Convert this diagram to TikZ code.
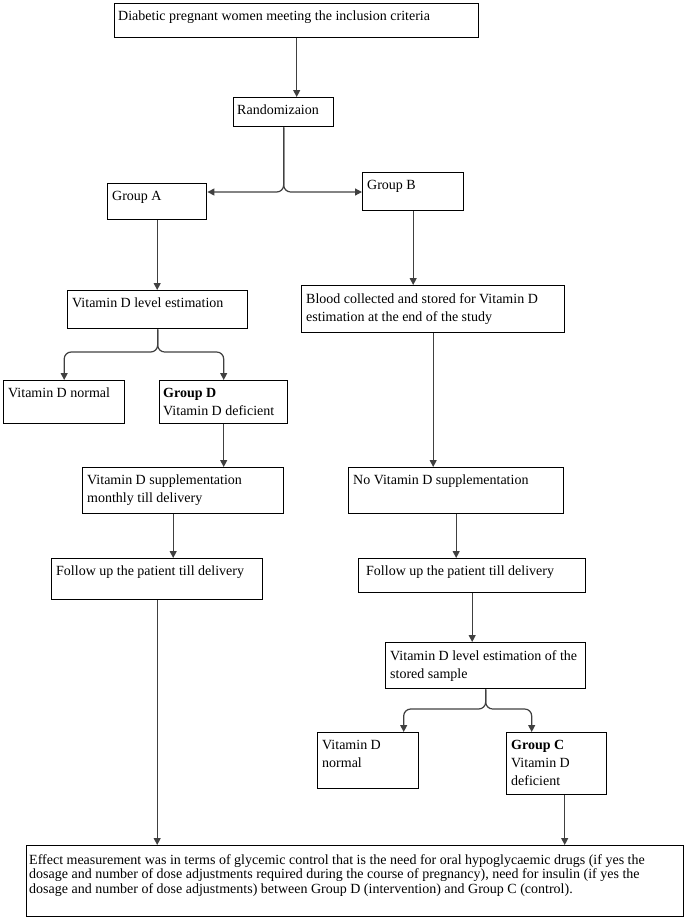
\documentclass[tikz,border=0pt]{standalone}
\usepackage{fontspec}
\setmainfont{Liberation Serif}
\usetikzlibrary{arrows.meta,calc}
\newcommand\flowbox[7][5]{% [inset] name,x1,y1,x2,y2,text
  \node[boxst, minimum width={(#5-#3)*1pt}, minimum height={(#6-#4)*1pt}] (#2) at (#3,#4) {};
  \node[txt] (#2-t) at ($(#2.north west)+(#1,8)$) {#7};
}
\begin{document}
\begin{tikzpicture}[x=1pt,y=-1pt,
  boxst/.style={draw=black, line width=1.4pt, inner sep=0pt, anchor=north west},
  txt/.style={anchor=north west, inner sep=0pt, align=left, font=\fontsize{14}{18}\selectfont},
  tighttxt/.style={txt, font=\fontsize{14}{14.5}\selectfont},
  arr/.style={draw=black!75, line width=1.2pt, -{Triangle[width=7pt,length=7pt]}},
]
\useasboundingbox (0,0) rectangle (685,919);

\flowbox[4]{top}{114}{3}{478}{37}{Diabetic pregnant women meeting the inclusion criteria}
\flowbox[4]{rand}{233}{97}{333}{126}{Randomizaion}
\flowbox{grpA}{107}{183}{206}{219}{Group A}
\flowbox{grpB}{362}{172}{463}{210}{Group B}
\flowbox{vdlA}{67}{290}{247}{328}{Vitamin D level estimation}
\flowbox{blood}{301}{285}{564}{332}{Blood collected and stored for Vitamin D\\estimation at the end of the study}
\flowbox{vdn}{3}{380}{124}{423}{Vitamin D normal}
\flowbox[4]{grpD}{159}{380}{287}{423}{\textbf{Group D}\\Vitamin D deficient}
\flowbox{supp}{82}{467}{283}{513}{Vitamin D supplementation\\monthly till delivery}
\flowbox{nosupp}{348}{467}{563}{513}{No Vitamin D supplementation}
\flowbox{fuL}{51}{558}{262}{599}{Follow up the patient till delivery}
\flowbox[8]{fuR}{358}{558}{585}{592}{Follow up the patient till delivery}
\flowbox{vdlS}{385}{642}{585}{688}{Vitamin D level estimation of the\\stored sample}
\flowbox{vdnC}{317}{732}{418}{788}{Vitamin D\\normal}
\flowbox{grpC}{506}{732}{606}{794}{\textbf{Group C}\\Vitamin D\\deficient}
\node[boxst, minimum width=657pt, minimum height=71pt] (eff) at (26,845) {};
\node[tighttxt] (eff-t) at ($(eff.north west)+(3,9)$) {Effect measurement was in terms of glycemic control that is the need for oral hypoglycaemic drugs (if yes the\\dosage and number of dose adjustments required during the course of pregnancy), need for insulin (if yes the\\dosage and number of dose adjustments) between Group D (intervention) and Group C (control).};

\coordinate (rj) at (283,192);
\coordinate (aj) at (157,352);
\coordinate (sj) at (485,709);

\draw[arr] (top.south) -- (top.south |- rand.north);
\draw[arr, rounded corners=7pt] (rand.south) |- (grpA.east |- rj);
\draw[arr, rounded corners=7pt] (rand.south) |- (grpB.west |- rj);
\draw[arr] (grpA.south) -- (grpA.south |- vdlA.north);
\draw[arr] (grpB.south) -- (grpB.south |- blood.north);
\draw[arr, rounded corners=7pt] (vdlA.south) -- (vdlA.south |- aj) -| (vdn.north);
\draw[arr, rounded corners=7pt] (vdlA.south) -- (vdlA.south |- aj) -| (grpD.north);
\draw[arr] (grpD.south) -- (grpD.south |- supp.north);
\draw[arr] ([xshift=-10pt]supp.south) -- ([xshift=-10pt]supp.south |- fuL.north);
\draw[arr] (fuL.south) -- (fuL.south |- eff.north);
\draw[arr] (blood.south) -- (blood.south |- nosupp.north);
\draw[arr] (nosupp.south) -- (nosupp.south |- fuR.north);
\draw[arr] (fuR.south) -- (fuR.south |- vdlS.north);
\draw[arr, rounded corners=7pt] (vdlS.south) -- (vdlS.south |- sj) -| ([xshift=35.5pt]vdnC.north);
\draw[arr, rounded corners=7pt] (vdlS.south) -- (vdlS.south |- sj) -| ([xshift=-25pt]grpC.north);
\draw[arr] ([xshift=8pt]grpC.south) -- ([xshift=8pt]grpC.south |- eff.north);
\end{tikzpicture}
\end{document}
